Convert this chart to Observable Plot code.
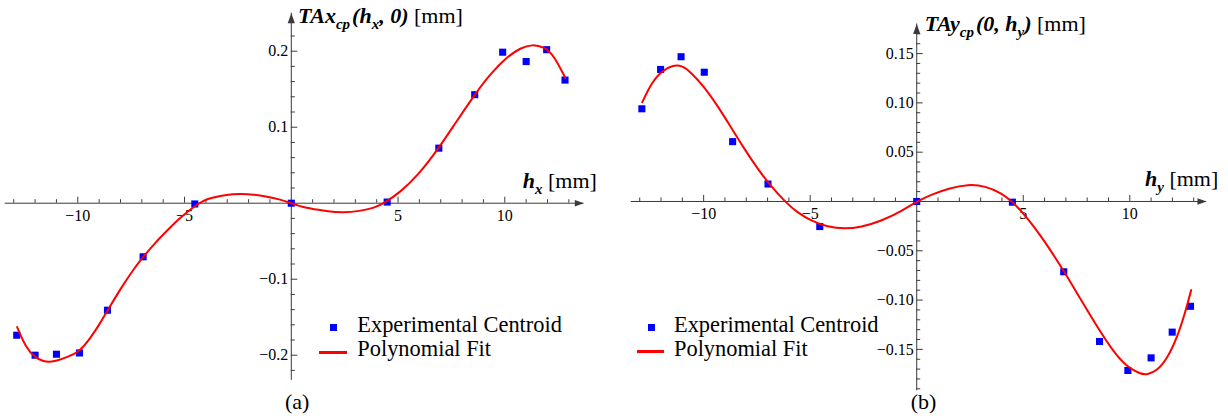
<!DOCTYPE html>
<html><head><meta charset="utf-8">
<script src="https://cdn.jsdelivr.net/npm/d3@7"></script>
<script src="https://cdn.jsdelivr.net/npm/@observablehq/plot@0.6"></script>
<style>
html,body{margin:0;padding:0;background:#fff;}
#wrap{position:relative;width:1228px;height:418px;overflow:hidden;font-family:"Liberation Serif","Times New Roman",serif;color:#000;}
.panel{position:absolute;top:0;width:614px;height:418px;}
.lbl{position:absolute;font-size:22px;line-height:22px;white-space:nowrap;}
.leg{font-size:22.4px;}
.bi{font-weight:bold;font-style:italic;}
.sub{font-size:15px;position:relative;top:6px;}
.gap{margin-right:2px;}
.sw{position:absolute;}
</style></head><body><div id="wrap">
<div class="panel" id="pa" style="left:0px"></div>
<div class="panel" id="pb" style="left:614px"></div>
<div class="lbl" style="left:298px;top:4.6px"><span class="bi">TAx<span class="sub gap">cp</span>(h<span class="sub">x</span>, 0)</span> [mm]</div>
<div class="lbl" style="left:924.7px;top:12.6px"><span class="bi">TAy<span class="sub gap">cp</span>(0, h<span class="sub">y</span>)</span> [mm]</div>
<div class="lbl" style="left:522.7px;top:169.6px"><span class="bi">h<span class="sub">x</span></span> [mm]</div>
<div class="lbl" style="left:1145px;top:168.3px"><span class="bi">h<span class="sub">y</span></span> [mm]</div>
<div class="sw" style="left:329.8px;top:324.2px;width:7px;height:7px;background:#0000ff"></div>
<div class="sw" style="left:319.3px;top:350.8px;width:27.4px;height:3px;background:#ff0000"></div>
<div class="lbl leg" style="left:357.3px;top:314.3px">Experimental Centroid</div>
<div class="lbl leg" style="left:357.3px;top:338.3px">Polynomial Fit</div>
<div class="sw" style="left:648.2px;top:324.2px;width:7px;height:7px;background:#0000ff"></div>
<div class="sw" style="left:636.7px;top:350.2px;width:27.3px;height:3px;background:#ff0000"></div>
<div class="lbl leg" style="left:674px;top:314.3px">Experimental Centroid</div>
<div class="lbl leg" style="left:674px;top:338.3px">Polynomial Fit</div>
<div class="lbl" style="left:285px;top:390.6px">(a)</div>
<div class="lbl" style="left:910.7px;top:390.6px">(b)</div>
</div>
<script>
// ---- Panel (a) data ----
const hxMeasured = [-12.86, -12.0, -11.0, -9.92, -8.61, -6.94, -4.52, 0, 4.49, 6.91, 8.59, 9.9, 11.0, 11.96, 12.82];
const tAxMeasured = [-0.1737, -0.200, -0.1987, -0.197, -0.1408, -0.0705, -0.001, 0, 0.0015, 0.0724, 0.1428, 0.1987, 0.1864, 0.202, 0.162];
const hxFit = [-12.84, -12.45, -12.0, -11.59, -11.31, -11.01, -10.5, -9.92, -9.41, -8.94, -8.61, -8.0, -7.38, -6.94, -6.28, -5.81, -5.19, -4.35, -3.94, -3.32, -2.69, -2.38, -1.76, -1.13, -0.51, 0, 0.5, 1.1, 1.7, 2.42, 3.2, 3.9, 4.35, 5.1, 5.9, 6.91, 7.7, 8.58, 9.3, 10.1, 10.74, 11.28, 11.85, 12.3, 12.83];
const tAxFit = [-0.163, -0.189, -0.2035, -0.2083, -0.2087, -0.2075, -0.2025, -0.1955, -0.1775, -0.1575, -0.1412, -0.1127, -0.0864, -0.0706, -0.0491, -0.0359, -0.0184, 0, 0.006, 0.0098, 0.012, 0.0124, 0.0113, 0.0085, 0.005, 0, -0.005, -0.0078, -0.011, -0.0125, -0.0105, -0.006, 0, 0.0145, 0.0355, 0.0724, 0.106, 0.1426, 0.1695, 0.1925, 0.2045, 0.209, 0.2055, 0.1945, 0.165];

// ---- Panel (b) data ----
const hyMeasured = [-12.9, -12.02, -11.06, -9.97, -8.64, -6.98, -4.55, 0, 4.49, 6.9, 8.58, 9.91, 11.0, 11.99, 12.85];
const tAyMeasured = [0.094, 0.1339, 0.1468, 0.1311, 0.0607, 0.0177, -0.0254, 0, -0.0007, -0.0713, -0.142, -0.1714, -0.1586, -0.1325, -0.1063];
const hyFit = [-12.88, -12.47, -12.0, -11.41, -11.0, -10.62, -10.0, -9.37, -8.75, -8.12, -7.49, -6.87, -6.1, -5.62, -4.96, -4.18, -3.39, -2.61, -1.67, -0.73, 0, 0.70, 1.49, 2.43, 3.21, 3.99, 4.46, 4.9, 5.4, 5.81, 6.18, 6.9, 7.69, 8.47, 9.25, 9.88, 10.5, 10.82, 11.29, 11.76, 12.23, 12.62, 12.88];
const tAyFit = [0.1007, 0.1193, 0.1322, 0.1386, 0.1375, 0.1316, 0.117, 0.0978, 0.0764, 0.0544, 0.0339, 0.0162, -0.0019, -0.0108, -0.0197, -0.0259, -0.0279, -0.026, -0.0199, -0.010, 0, 0.0072, 0.0133, 0.0175, 0.0157, 0.0085, 0, -0.0093, -0.0228, -0.0347, -0.0462, -0.0703, -0.0991, -0.1272, -0.153, -0.1678, -0.175, -0.1757, -0.1715, -0.1593, -0.1377, -0.1112, -0.0899];

// ---- Axes / ticks ----
const axisXA = [-13.4, 13.7];
const axisYA = [-0.233, 0.25];
const axisXB = [-13.4, 13.6];
const axisYB = [-0.192, 0.18];
const xMajorTicks = [-10, -5, 5, 10];
const xTickLabels = ["\u221210", "\u22125", "5", "10"];
const xMinorTicks = [-13, -12, -11, -9, -8, -7, -6, -4, -3, -2, -1, 1, 2, 3, 4, 6, 7, 8, 9, 11, 12, 13];
const yMajorTicksA = [-0.2, -0.1, 0.1, 0.2];
const yTickLabelsA = ["\u22120.2", "\u22120.1", "0.1", "0.2"];
const yMinorTicksA = [-0.22, -0.18, -0.16, -0.14, -0.12, -0.08, -0.06, -0.04, -0.02, 0.02, 0.04, 0.06, 0.08, 0.12, 0.14, 0.16, 0.18, 0.22];
const yMajorTicksB = [-0.15, -0.10, -0.05, 0.05, 0.10, 0.15];
const yTickLabelsB = ["\u22120.15", "\u22120.10", "\u22120.05", "0.05", "0.10", "0.15"];
const yMinorTicksB = [-0.19, -0.18, -0.17, -0.16, -0.14, -0.13, -0.12, -0.11, -0.09, -0.08, -0.07, -0.06, -0.04, -0.03, -0.02, -0.01, 0.01, 0.02, 0.03, 0.04, 0.06, 0.07, 0.08, 0.09, 0.11, 0.12, 0.13, 0.14, 0.16, 0.17];

const axisColor = "#3a3a3a";
const serif = "Liberation Serif";
const arrowUp = {draw(ctx) { ctx.moveTo(0, 0); ctx.lineTo(3.6, 10); ctx.lineTo(-3.6, 10); ctx.closePath(); }};
const arrowRight = {draw(ctx) { ctx.moveTo(0, 0); ctx.lineTo(-9, 3.2); ctx.lineTo(-9, -3.2); ctx.closePath(); }};

function panel(o) {
  const pts = o.px.map((x, i) => ({x, y: o.py[i]}));
  const fit = o.fx.map((x, i) => ({x, y: o.fy[i]}));
  return Plot.plot({
    width: 614, height: 418,
    marginLeft: o.m[0], marginRight: o.m[1], marginTop: o.m[2], marginBottom: o.m[3],
    x: {domain: o.xExt, axis: null},
    y: {domain: o.yExt, axis: null},
    style: {fontFamily: serif, fontSize: "16px", background: "transparent", overflow: "visible", color: "#000"},
    marks: [
      Plot.ruleY([0], {x1: o.xExt[0], x2: o.xExt[1], stroke: axisColor, strokeWidth: 1}),
      Plot.ruleX([0], {y1: o.yExt[0], y2: o.yExt[1], stroke: axisColor, strokeWidth: 1}),
      Plot.ruleX(xMajorTicks, {x: d => d, y1: 0, y2: 0, insetTop: -6, stroke: axisColor}),
      Plot.ruleX(xMinorTicks, {x: d => d, y1: 0, y2: 0, insetTop: -3.5, stroke: axisColor}),
      Plot.ruleY(o.yMaj, {y: d => d, x1: 0, x2: 0, insetRight: -6.5, stroke: axisColor}),
      Plot.ruleY(o.yMin, {y: d => d, x1: 0, x2: 0, insetRight: -4, stroke: axisColor}),
      Plot.dot([0], {x: o.xExt[1], y: 0, symbol: arrowRight, r: 4, fill: axisColor, stroke: null}),
      Plot.dot([0], {x: 0, y: o.yExt[1], symbol: arrowUp, r: 4, fill: axisColor, stroke: null}),
      Plot.text(xMajorTicks, {x: d => d, y: 0, text: (d, i) => xTickLabels[i], lineAnchor: "top", dy: 6, fontSize: 16, fontFamily: serif, fill: "#000"}),
      Plot.text(o.yMaj, {x: 0, y: d => d, text: (d, i) => o.yLab[i], textAnchor: "end", dx: -3, fontSize: 16, fontFamily: serif, fill: "#000"}),
      Plot.dot(pts, {x: "x", y: "y", symbol: "square", r: 4, fill: "#0000ff", stroke: null}),
      Plot.line(fit, {x: "x", y: "y", curve: "basis", stroke: "#ff0000", strokeWidth: 2})
    ]
  });
}

document.getElementById("pa").appendChild(panel({
  px: hxMeasured, py: tAxMeasured, fx: hxFit, fy: tAxFit,
  xExt: axisXA, yExt: axisYA, m: [4.7, 30.7, 12.7, 38.2],
  yMaj: yMajorTicksA, yMin: yMinorTicksA, yLab: yTickLabelsA
}));
document.getElementById("pb").appendChild(panel({
  px: hyMeasured, py: tAyMeasured, fx: hyFit, fy: tAyFit,
  xExt: axisXB, yExt: axisYB, m: [16.7, 22, 23.5, 27.7],
  yMaj: yMajorTicksB, yMin: yMinorTicksB, yLab: yTickLabelsB
}));
</script></body></html>
